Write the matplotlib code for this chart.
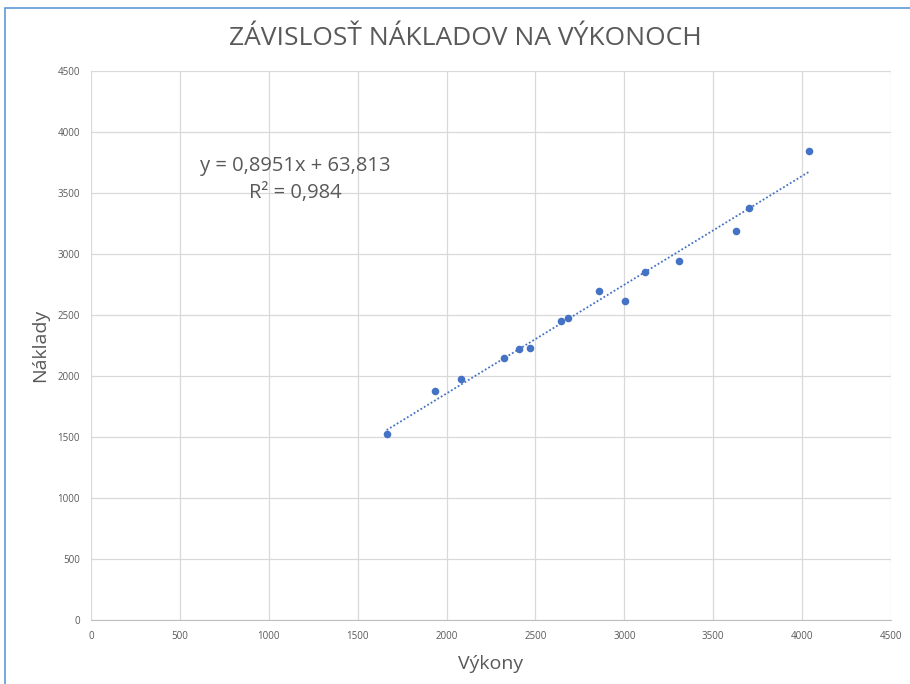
import matplotlib.pyplot as plt
import numpy as np
from matplotlib.patches import Rectangle

plt.rcParams['font.family'] = ['Open Sans', 'DejaVu Sans']

# data
vykony = [1663, 1933, 2084, 2322, 2410, 2472, 2646, 2681, 2855, 3006, 3118, 3309, 3627, 3699, 4040]
naklady = [1523, 1878, 1977, 2150, 2221, 2229, 2451, 2477, 2700, 2617, 2852, 2942, 3192, 3379, 3843]
eq_text = "y = 0,8951x + 63,813\nR² = 0,984"

blue = '#4472C4'
gray = '#595959'

fig = plt.figure(figsize=(9.1, 6.84), dpi=100)
ax = fig.add_axes([91 / 910, 64 / 684, 800 / 910, 549 / 684])

ax.scatter(vykony, naklady, s=30, color=blue, zorder=3, linewidths=0)

# linear trendline
k, q = np.polyfit(vykony, naklady, 1)
xs = np.array([min(vykony), max(vykony)])
ax.plot(xs, k * xs + q, linestyle=(0, (1, 1.2)), color=blue, linewidth=1.3, zorder=2)

ax.text(1150, 3610, eq_text, ha='center', va='center', fontsize=14.5,
        color=gray, multialignment='center', linespacing=1.45)

ax.set_xlim(0, 4500)
ax.set_ylim(0, 4500)
ax.set_xticks(range(0, 4501, 500))
ax.set_yticks(range(0, 4501, 500))
ax.grid(True, color='#d9d9d9', linewidth=0.9)
ax.set_axisbelow(True)
for s in ['top', 'right', 'left']:
    ax.spines[s].set_visible(False)
ax.spines['bottom'].set_color('#bfbfbf')
ax.tick_params(length=0, labelsize=7, labelcolor=gray, pad=8)

ax.set_xlabel('Výkony', fontsize=14, color=gray, labelpad=9)
ax.set_ylabel('Náklady', fontsize=14, color=gray, labelpad=6)
fig.text(0.511, 0.943, 'ZÁVISLOSŤ NÁKLADOV NA VÝKONOCH', ha='center', va='center',
         fontsize=19, color=gray)

# chart frame
fig.patches.append(Rectangle((5 / 910, -0.05), 1.1, 1.05 - 8 / 684,
                             transform=fig.transFigure, fill=False,
                             edgecolor='#5b9bd5', linewidth=1.2))

fig.savefig('out.png', dpi=100)
